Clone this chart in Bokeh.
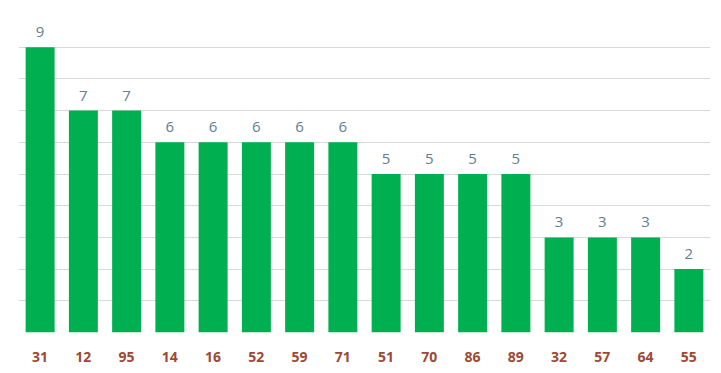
from bokeh.plotting import figure
from bokeh.models import ColumnDataSource, LabelSet, FixedTicker
from bokeh.core.properties import value
from bokeh.embed import file_html
from bokeh.resources import INLINE

categories = ["31", "12", "95", "14", "16", "52", "59", "71", "51", "70", "86", "89", "32", "57", "64", "55"]
values = [9, 7, 7, 6, 6, 6, 6, 6, 5, 5, 5, 5, 3, 3, 3, 2]
y_ticks = [0, 1, 2, 3, 4, 5, 6, 7, 8, 9, 10]

src = ColumnDataSource(data=dict(cat=categories, val=values, lab=[str(v) for v in values]))

p = figure(x_range=categories, y_range=(0, 10), width=712, height=365,
           output_backend="svg", toolbar_location=None,
           min_border_left=18, min_border_right=2, min_border_top=15, min_border_bottom=33)
p.outline_line_color = None
p.background_fill_color = "white"

p.vbar(x="cat", top="val", width=0.67, source=src, color="#00b050", line_color=None)

labels = LabelSet(x="cat", y="val", text="lab", source=src, text_align="center",
                  text_baseline="bottom", y_offset=10, text_font=value("Open Sans"),
                  text_font_size="15px", text_color="#5f7d95")
p.add_layout(labels)

p.yaxis.visible = False
p.ygrid.ticker = FixedTicker(ticks=y_ticks)
p.ygrid.grid_line_color = "#d9d9d9"
p.ygrid.grid_line_width = 1
p.xgrid.grid_line_color = None

p.xaxis.axis_line_color = None
p.xaxis.major_tick_line_color = None
p.xaxis.minor_tick_line_color = None
p.xaxis.major_label_text_font = "Open Sans"
p.xaxis.major_label_text_font_style = "bold"
p.xaxis.major_label_text_font_size = "14px"
p.xaxis.major_label_text_color = "#9a4a35"
p.xaxis.major_label_standoff = 13

open("out.html", "w").write(file_html(p, INLINE))
